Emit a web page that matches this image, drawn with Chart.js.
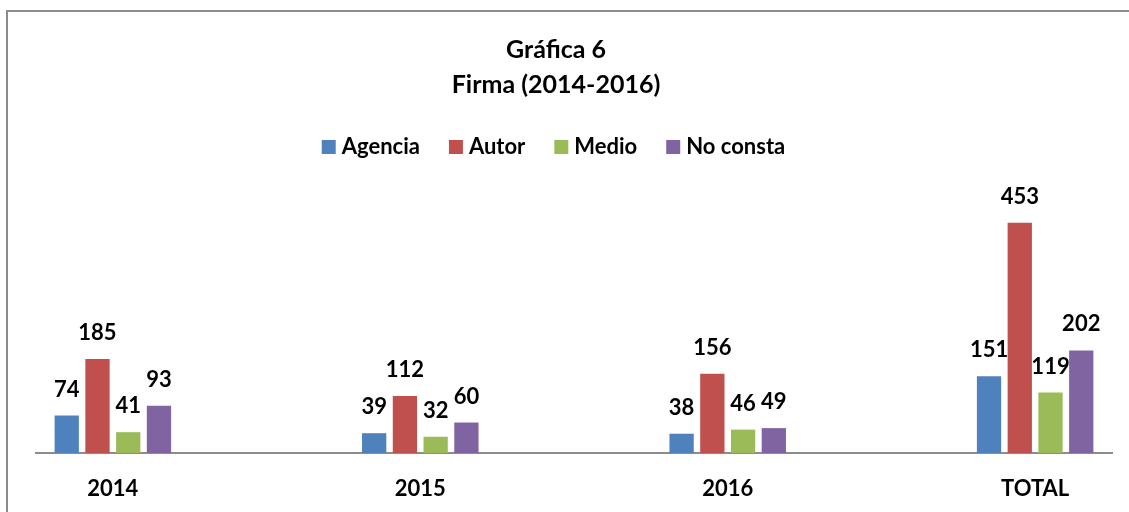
<!DOCTYPE html>
<html>
<head>
<meta charset="utf-8">
<script src="https://cdn.jsdelivr.net/npm/chart.js@4.4.1/dist/chart.umd.min.js"></script>
<style>
    html, body { margin: 0; padding: 0; background: #fff; overflow: hidden; }
    #wrap { position: relative; width: 1129px; height: 512px; }
    #frame {
        position: absolute; left: 6px; top: 10px; width: 1140px; height: 520px;
        border-top: 2px solid #8c8c8c; border-left: 2px solid #8c8c8c;
        pointer-events: none;
    }
    canvas { position: absolute; left: 0; top: 0; }
</style>
</head>
<body>
<div id="wrap">
    <canvas id="chart" width="1129" height="512"></canvas>
    <div id="frame"></div>
</div>
<script>
// ===================================
// Data
// ===================================
const categories = ['2014', '2015', '2016', 'TOTAL'];
const seriesNames = ['Agencia', 'Autor', 'Medio', 'No consta'];
const agencia = [74, 39, 38, 151];
const autor = [185, 112, 156, 453];
const medio = [41, 32, 46, 119];
const noConsta = [93, 60, 49, 202];
const seriesColors = ['#4F81BD', '#C0504D', '#9BBB59', '#8064A2'];

const FONT = 'Lato, "Open Sans", sans-serif';

// Draw value labels above every bar
const valueLabels = {
    id: 'valueLabels',
    afterDatasetsDraw(chart) {
        const ctx = chart.ctx;
        ctx.save();
        ctx.font = 'bold 22px ' + FONT;
        ctx.fillStyle = '#000';
        ctx.textAlign = 'center';
        ctx.textBaseline = 'middle';
        chart.data.datasets.forEach((ds, i) => {
            chart.getDatasetMeta(i).data.forEach((bar, j) => {
                ctx.fillText(String(ds.data[j].y), bar.x, bar.y - 26);
            });
        });
        ctx.restore();
    }
};

const toPoints = (values) => values.map((v, i) => ({ x: i, y: v }));
const seriesValues = [agencia, autor, medio, noConsta];

const chart = new Chart(document.getElementById('chart'), {
    type: 'bar',
    data: {
        datasets: seriesNames.map((name, i) => ({
            label: name,
            data: toPoints(seriesValues[i]),
            backgroundColor: seriesColors[i],
            borderWidth: 0,
            categoryPercentage: 0.4,
            barPercentage: 0.79
        }))
    },
    plugins: [valueLabels],
    options: {
        responsive: false,
        animation: false,
        layout: {
            padding: { left: 0, right: 17, top: 0, bottom: 0 }
        },
        plugins: {
            title: {
                display: true,
                text: ['Gráfica 6', 'Firma (2014-2016)'],
                color: '#000',
                font: { family: FONT, size: 25, weight: 'bold', lineHeight: 1.4 },
                padding: { top: 32, bottom: 0 }
            },
            legend: {
                display: true,
                position: 'top',
                labels: {
                    color: '#000',
                    usePointStyle: true,
                    pointStyle: 'rect',
                    boxWidth: 4,
                    boxHeight: 14,
                    padding: 34,
                    font: { family: FONT, size: 22, weight: 'bold' }
                }
            },
            tooltip: { enabled: false }
        },
        scales: {
            x: {
                type: 'linear',
                min: -0.25,
                max: 3.25,
                offset: false,
                grid: { display: false, drawTicks: false },
                border: { display: true, color: '#8c8c8c', width: 2 },
                afterBuildTicks: (axis) => {
                    axis.ticks = categories.map((c, i) => ({ value: i }));
                },
                afterFit: (axis) => {
                    axis.height = 59;
                },
                ticks: {
                    autoSkip: false,
                    maxRotation: 0,
                    padding: 23,
                    color: '#000',
                    font: { family: FONT, size: 22, weight: 'bold' },
                    callback: (value) => categories[value]
                }
            },
            y: {
                display: true,
                min: 0,
                max: 561,
                grid: { display: false, drawTicks: false },
                border: { display: false },
                ticks: { display: false },
                afterFit: (axis) => {
                    axis.width = 36;
                }
            }
        }
    }
});
</script>
</body>
</html>
